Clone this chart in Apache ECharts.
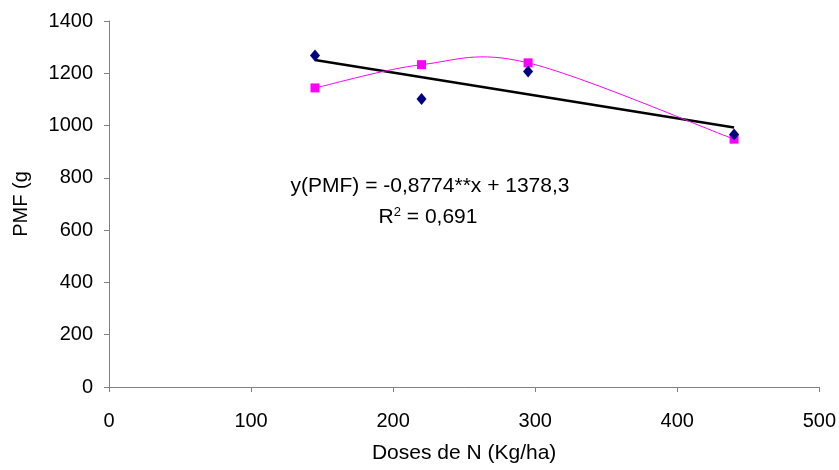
<!DOCTYPE html>
<html><head><meta charset="utf-8">
<script src="https://cdn.jsdelivr.net/npm/echarts@6/dist/echarts.min.js"></script>
<style>html,body{margin:0;padding:0;background:#fff}#c{width:839px;height:470px}</style>
</head><body><div id="c"></div>
<script>
const doses = [145, 220, 295, 440];
const pmfObserved = [1268, 1102, 1207, 966];
const pmfSecond = [1144, 1233, 1240, 948];
const trendSlope = -0.8774;
const trendIntercept = 1378.3;
const xTicks = [0, 100, 200, 300, 400, 500];
const yTicks = [0, 200, 400, 600, 800, 1000, 1200, 1400];
const eqText = 'y(PMF) = -0,8774**x + 1378,3';
const r2Text = 'R{sup|2} = 0,691';

const trendData = [doses[0], doses[doses.length-1]].map(x => [x, trendSlope*x + trendIntercept]);
const secondData = doses.map((x,i)=>[x,pmfSecond[i]]);

// Excel-style (Catmull-Rom) smoothed curve drawn through the axis scales
function renderSmooth(params, api){
  if (params.dataIndex !== 0) return null;
  const pts = secondData.map(d => api.coord(d));
  const n = pts.length;
  let path = 'M' + pts[0][0] + ' ' + pts[0][1];
  for (let i = 0; i < n-1; i++){
    const p0 = pts[Math.max(i-1,0)], p1 = pts[i], p2 = pts[i+1], p3 = pts[Math.min(i+2,n-1)];
    const c1 = [p1[0] + (p2[0]-p0[0])/6, p1[1] + (p2[1]-p0[1])/6];
    const c2 = [p2[0] - (p3[0]-p1[0])/6, p2[1] - (p3[1]-p1[1])/6];
    path += ' C' + c1[0] + ' ' + c1[1] + ' ' + c2[0] + ' ' + c2[1] + ' ' + p2[0] + ' ' + p2[1];
  }
  return {type:'path', shape:{pathData:path}, style:{stroke:'#FF00FF', lineWidth:1, fill:null}};
}

const chart = echarts.init(document.getElementById('c'), null, {renderer:'canvas'});
const font = 'Liberation Sans, Arial, sans-serif';
chart.setOption({
  animation:false,
  grid:{left:109,right:17,top:21,bottom:83},
  xAxis:{type:'value',min:xTicks[0],max:xTicks[xTicks.length-1],interval:100,
    name:'Doses de N (Kg/ha)',nameLocation:'middle',nameGap:56,
    nameTextStyle:{fontFamily:font,fontSize:21,color:'#000'},
    axisLine:{lineStyle:{color:'#808080',width:1}},
    axisTick:{show:true,length:5,lineStyle:{color:'#808080'}},
    axisLabel:{fontFamily:font,fontSize:20,color:'#000',margin:24,formatter:v=>String(v)},
    splitLine:{show:false}},
  yAxis:{type:'value',min:yTicks[0],max:yTicks[yTicks.length-1],interval:200,
    name:'PMF (g',nameLocation:'middle',nameGap:78,nameRotate:90,
    nameTextStyle:{fontFamily:font,fontSize:20,color:'#000'},
    axisLine:{show:true,lineStyle:{color:'#808080',width:1}},
    axisTick:{show:true,length:5,lineStyle:{color:'#808080'}},
    axisLabel:{fontFamily:font,fontSize:20,color:'#000',margin:16,formatter:v=>String(v)},
    splitLine:{show:false}},
  series:[
    {type:'line',data:trendData,symbol:'none',lineStyle:{color:'#000',width:2.5},z:2},
    {type:'custom',data:secondData,renderItem:renderSmooth,z:3,silent:true},
    {type:'scatter',data:secondData,symbol:'rect',symbolSize:9,
      itemStyle:{color:'#FF00FF',opacity:1},z:4},
    {type:'scatter',data:doses.map((x,i)=>[x,pmfObserved[i]]),symbol:'diamond',symbolSize:[10,12],
      itemStyle:{color:'#000080',opacity:1},z:5}
  ],
  graphic:[
    {type:'text',x:430,y:186,style:{text:eqText,fontFamily:font,fontSize:21,fill:'#000',align:'center',verticalAlign:'middle'}},
    {type:'text',x:428,y:217,style:{text:r2Text,fontFamily:font,fontSize:21,fill:'#000',align:'center',verticalAlign:'middle',
      rich:{sup:{fontSize:13,verticalAlign:'top',padding:[0,0,9,0],fontFamily:font}}}}
  ]
});
</script></body></html>
